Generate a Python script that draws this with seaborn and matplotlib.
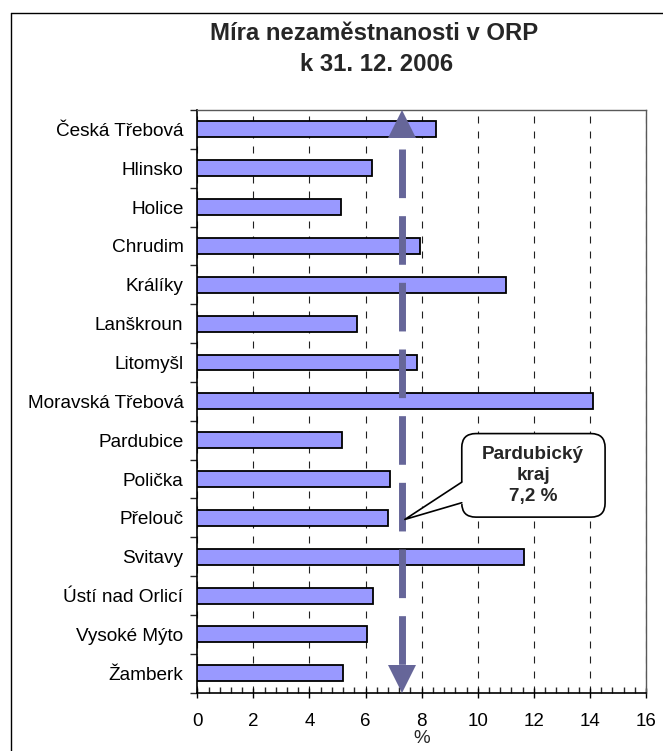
import numpy as np
import pandas as pd
import matplotlib.pyplot as plt
from matplotlib.patches import FancyBboxPatch, Polygon
from matplotlib.ticker import MultipleLocator
import seaborn as sns

# unemployment rate (%) in each ORP, 31. 12. 2006
orp = ['Česká Třebová', 'Hlinsko', 'Holice', 'Chrudim', 'Králíky', 'Lanškroun',
       'Litomyšl', 'Moravská Třebová', 'Pardubice', 'Polička', 'Přelouč',
       'Svitavy', 'Ústí nad Orlicí', 'Vysoké Mýto', 'Žamberk']
rate = [8.5, 6.24, 5.14, 7.94, 11.0, 5.68, 7.82, 14.12, 5.16, 6.87, 6.79,
        11.66, 6.28, 6.05, 5.2]

# regional average arrow (position) and its label
kraj_x = 7.3
kraj_label = 'Pardubický\nkraj\n7,2 %'

xticks = list(range(0, 17, 2))

df = pd.DataFrame({'orp': orp, 'rate': rate})

sns.set_style('white')
plt.rcParams['font.family'] = ['Liberation Sans', 'DejaVu Sans']

fig = plt.figure(figsize=(6.63, 7.51), dpi=100)
ax = fig.add_axes([0.2976, 0.0776, 0.6768, 0.776])

sns.barplot(data=df, x='rate', y='orp', orient='h', color='#9999FF',
            saturation=1, edgecolor='black', linewidth=1.3, width=0.41,
            ax=ax, zorder=3)

n = len(orp)
ax.set_xlim(0, 16)
ax.set_ylim(n - 0.5, -0.5)
ax.set_xticks(xticks)
ax.xaxis.set_minor_locator(MultipleLocator(0.4))
ax.set_yticks(np.arange(-0.5, n, 1), minor=True)
ax.grid(axis='x', which='major', color='#202020', linestyle=(0, (6.3, 7.2)),
        linewidth=0.8)
ax.set_axisbelow(True)

ax.tick_params(axis='x', which='major', bottom=True, direction='inout',
               length=7, width=1, pad=11, labelsize=13.5, colors='black')
ax.tick_params(axis='x', which='minor', bottom=True, direction='in',
               length=4, width=1)
ax.tick_params(axis='y', which='major', left=True, length=0, pad=10,
               labelsize=13.7, colors='black')
ax.tick_params(axis='y', which='minor', left=True, direction='out',
               length=5, width=1)

ax.set_xlabel('%', fontsize=13.5, labelpad=0)
ax.set_ylabel('')

for side in ['left', 'bottom']:
    ax.spines[side].set_color('black')
    ax.spines[side].set_linewidth(1.2)
for side in ['top', 'right']:
    ax.spines[side].set_color('#595959')
    ax.spines[side].set_linewidth(1)

# dashed arrow for the regional average
arrow_col = '#666699'
ax.plot([kraj_x, kraj_x], [0.5, n - 1.22], color=arrow_col, lw=5,
        dashes=(7, 2.6), solid_capstyle='butt', zorder=4)
ax.plot([kraj_x], [-0.5 + 0.36], marker='^', ms=20, color=arrow_col,
        mew=0, zorder=4)
ax.plot([kraj_x], [n - 0.5 - 0.36], marker='v', ms=20, color=arrow_col,
        mew=0, zorder=4)

# callout
box = FancyBboxPatch((9.43, 7.83), 5.11, 2.15,
                     boxstyle='round,pad=0,rounding_size=0.5',
                     mutation_aspect=0.72, fc='white', ec='black', lw=1.2,
                     zorder=5)
ax.add_patch(box)
ax.add_patch(Polygon([(9.5, 9.06), (kraj_x + 0.1, 10.04), (9.5, 9.63)],
                     closed=True, fc='white', ec='none', zorder=6))
ax.plot([9.43, kraj_x + 0.1, 9.43], [9.08, 10.04, 9.61], color='black',
        lw=1.2, zorder=7)
ax.text(11.97, 8.91, kraj_label, ha='center', va='center', fontsize=13.6,
        fontweight='bold', linespacing=1.3, zorder=8)

fig.text(0.5645, 0.9467, 'Míra nezaměstnanosti v ORP', ha='center',
         va='baseline', fontsize=17.2, fontweight='bold')
fig.text(0.5675, 0.9055, 'k 31. 12. 2006', ha='center', va='baseline',
         fontsize=17.2, fontweight='bold')

# chart-area frame (only left and top edges fall inside the picture)
fx = 11 / 663
fy = 1 - 12.7 / 751
fig.add_artist(plt.Line2D([fx, fx], [0, fy], transform=fig.transFigure,
                          color='black', lw=1))
fig.add_artist(plt.Line2D([fx, 1], [fy, fy], transform=fig.transFigure,
                          color='black', lw=1))

fig.savefig('out.png', dpi=100)
